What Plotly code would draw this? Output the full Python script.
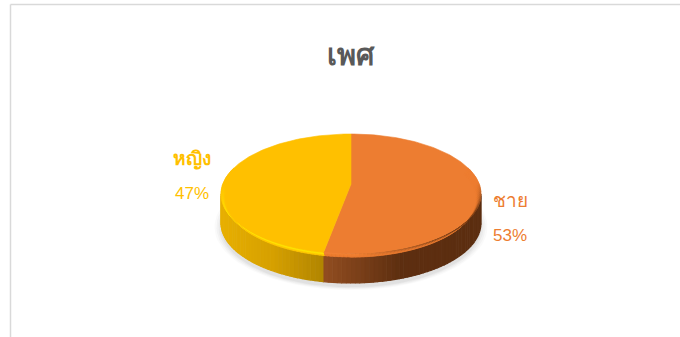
import numpy as np
import plotly.graph_objects as go

title = "เพศ"
categories = ["ชาย", "หญิง"]
values = [53.4, 46.6]
slice_colors = ["#ED7D31", "#FFC000"]

W, H = 680, 337
CX, CY, RX, RY = 351, 194, 130, 60
DEPTH = 29
SPOKE_Y = 184
FONT = "Liberation Sans, Noto Sans, DejaVu Sans, sans-serif"

fig = go.Figure()

def mix(c1, c2, t):
    return "rgb(%d,%d,%d)" % tuple(c1[i] + (c2[i] - c1[i]) * t for i in range(3))

def blend(c1, c2, t):
    return tuple(c1[i] + (c2[i] - c1[i]) * t for i in range(3))

def ell(theta, scale=1.0, dy=0.0):
    return (np.sin(theta) * scale, np.cos(theta) * scale - dy / RY)

def poly(x, y, color, lw=1.0):
    fig.add_trace(go.Scatter(x=list(x), y=list(y), mode="lines", fill="toself",
                             fillcolor=color, line=dict(color=color, width=lw),
                             hoverinfo="skip", showlegend=False))

fracs = np.array(values) / sum(values)
a0 = 0.0
a1 = 2 * np.pi * fracs[0]
a2 = 2 * np.pi

# soft shadow
for s, a in [(1.05, .04), (1.035, .05), (1.02, .06), (1.005, .08)]:
    t = np.linspace(0, 2 * np.pi, 100)
    fig.add_trace(go.Scatter(x=np.sin(t) * s, y=np.cos(t) * s - 33 / RY, mode="lines", fill="toself",
                             fillcolor=f"rgba(120,120,120,{a})", line=dict(width=0),
                             hoverinfo="skip", showlegend=False))

# side wall: gradient steps running left to right
orange_stops = [(-0.25, (150, 80, 34)), (0.38, (94, 47, 16)), (1, (92, 46, 16))]
yellow_stops = [(-1, (232, 176, 0)), (-0.6, (214, 160, 0)), (-0.22, (178, 134, 0))]

def shade(stops, x):
    for (x0, c0), (x1, c1) in zip(stops, stops[1:]):
        if x <= x1:
            return mix(c0, c1, max(0, (x - x0) / (x1 - x0)))
    return mix(stops[-1][1], stops[-1][1], 0)

edges = np.sort(np.r_[np.linspace(np.pi / 2, 3 * np.pi / 2, 91), a1])
for e0, e1 in zip(edges, edges[1:]):
    th = np.linspace(e0, e1, 3)
    x, y = ell(th)
    xb, yb = ell(th[::-1], dy=DEPTH)
    mid = (e0 + e1) / 2
    stops = orange_stops if mid < a1 else yellow_stops
    poly(np.r_[x, xb], np.r_[y, yb], shade(stops, np.sin(mid)), lw=1.2)

# top faces
spoke = (SPOKE_Y - CY) / -RY
FACE = [(237, 125, 49), (255, 192, 0)]
for (s, e), col in zip([(a0, a1), (a1, a2)], slice_colors):
    th = np.linspace(s, e, 160)
    x, y = ell(th)
    poly(np.r_[0, x, 0], np.r_[spoke, y, spoke], col, lw=0.6)

# bevel along the near rim, many thin bands fading inward
N_BANDS = 8
BAND = 0.8
YPROF = [(255, 204, 0), (255, 214, 0), (255, 226, 0), (255, 230, 0),
         (255, 222, 0), (255, 212, 0), (255, 202, 0), (255, 196, 0)]

def rim_colour(theta, band):
    front = float(np.clip((-np.cos(theta) + 0.2) / 0.5, 0, 1))
    t = band / (N_BANDS - 1)
    if theta < a1:
        dark = float(np.clip((np.sin(theta) - 0.05) / 0.75, 0, 1))
        outer = blend((246, 134, 56), (98, 50, 18), dark)
        c = blend(outer, FACE[0], t ** 0.8)
        return mix(FACE[0], c, front)
    return mix(FACE[1], YPROF[band], front)

edges = np.sort(np.r_[np.linspace(np.pi / 2 - .45, 3 * np.pi / 2 + .45, 131), a1])
for e0, e1 in zip(edges, edges[1:]):
    mid = (e0 + e1) / 2
    th = np.linspace(e0, e1, 3)
    for b in range(N_BANDS):
        d0, d1 = b * BAND, (b + 1) * BAND
        x, y = ell(th, scale=1 - d0 * .006, dy=d0 * .85)
        xi, yi = ell(th[::-1], scale=1 - d1 * .006, dy=d1 * .85)
        poly(np.r_[x, xi], np.r_[y, yi], rim_colour(mid, b), lw=0.5)

def X(p): return (p - CX) / RX
def Y(p): return (CY - p) / RY

def label(px, py, text, color, size, bold=False):
    fig.add_annotation(x=X(px), y=Y(py), text=f"<b>{text}</b>" if bold else text, showarrow=False,
                       font=dict(family=FONT, size=size, color=color))

label(351, 55, title, "#595959", 29, True)
label(510, 200, categories[0], slice_colors[0], 19)
label(510, 235, f"{round(values[0])}%", slice_colors[0], 17)
label(192, 159, categories[1], slice_colors[1], 19, True)
label(192, 193, f"{round(values[1])}%", slice_colors[1], 17)

# chart frame
fig.add_shape(type="line", xref="paper", yref="paper", x0=10.5 / W, x1=1, y0=1 - 4.5 / H, y1=1 - 4.5 / H,
              line=dict(color="#D9D9D9", width=1.5))
fig.add_shape(type="line", xref="paper", yref="paper", x0=10.5 / W, x1=10.5 / W, y0=0, y1=1 - 4.5 / H,
              line=dict(color="#D9D9D9", width=1.5))

fig.update_layout(
    width=W, height=H, margin=dict(l=0, r=0, t=0, b=0),
    paper_bgcolor="white", plot_bgcolor="white", showlegend=False,
    xaxis=dict(visible=False, range=[X(0), X(W)], fixedrange=True),
    yaxis=dict(visible=False, range=[Y(H), Y(0)], fixedrange=True),
)
fig.write_html("out.html", config={"displayModeBar": False},
               post_script="document.body.style.margin='0';document.body.style.overflow='hidden';")
